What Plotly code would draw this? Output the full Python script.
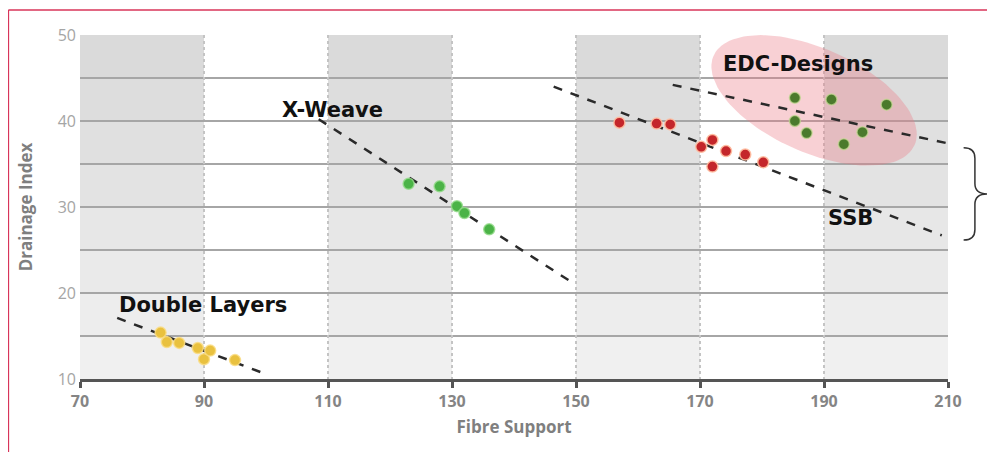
import numpy as np
import plotly.graph_objects as go

# ---- data ----
dl_x = [83, 84, 86, 89, 90, 91, 95]
dl_y = [15.4, 14.3, 14.2, 13.6, 12.3, 13.3, 12.2]
dl_fit_x = [76, 99.5]
dl_fit_y = [17.1, 10.7]

xw_x = [123, 128, 130.8, 132, 136]
xw_y = [32.7, 32.4, 30.1, 29.3, 27.4]
xw_fit_x = [108.5, 149]
xw_fit_y = [40.2, 21.4]

ssb_x = [157, 163, 165.2, 170.2, 172, 174.2, 177.3, 180.2, 172]
ssb_y = [39.8, 39.7, 39.6, 37.0, 37.8, 36.5, 36.1, 35.2, 34.7]
ssb_fit_x = [146.4, 209]
ssb_fit_y = [44.0, 26.7]

edc_x = [185.3, 191.2, 200.1, 185.3, 187.2, 196.2, 193.2]
edc_y = [42.7, 42.5, 41.9, 40.0, 38.6, 38.7, 37.3]
edc_fit_x = [165.6, 210]
edc_fit_y = [44.2, 37.4]

x_ticks = [70, 90, 110, 130, 150, 170, 190, 210]
y_ticks = [10, 20, 30, 40, 50]
labels = ["Double Layers", "X-Weave", "SSB", "EDC-Designs"]
label_x = [89.8, 110.8, 194.2, 185.8]
label_y = [18.6, 41.3, 28.7, 46.6]

# ellipse (EDC highlight) centre, semi-axes in px, angle deg
ell_c = (188.4, 42.4)
ell_ab = (110, 52)
ell_ang = 24

fig = go.Figure()

px_per_x = 868 / 140
px_per_y = 344 / 40
t = np.linspace(0, 2 * np.pi, 120)
th = np.radians(ell_ang)
u = ell_ab[0] * np.cos(t)
v = ell_ab[1] * np.sin(t)
ex = ell_c[0] + (u * np.cos(th) - v * np.sin(th)) / px_per_x
ey = ell_c[1] - (u * np.sin(th) + v * np.cos(th)) / px_per_y
fig.add_trace(go.Scatter(x=ex, y=ey, mode="lines", fill="toself",
                         fillcolor="rgba(236,120,132,0.35)", line=dict(width=0),
                         hoverinfo="skip", showlegend=False))

dash = dict(color="#2a2a2a", width=2.5, dash="dash")
for fx, fy in [(dl_fit_x, dl_fit_y), (xw_fit_x, xw_fit_y), (ssb_fit_x, ssb_fit_y), (edc_fit_x, edc_fit_y)]:
    fig.add_trace(go.Scatter(x=fx, y=fy, mode="lines", line=dash, showlegend=False))

def pts(x, y, col, halo):
    fig.add_trace(go.Scatter(x=x, y=y, mode="markers", showlegend=False,
                             marker=dict(size=11, color=col, line=dict(color=halo, width=1.5))))

pts(dl_x, dl_y, "#e9c13f", "rgba(250,220,130,0.8)")
pts(xw_x, xw_y, "#4bb347", "rgba(150,220,140,0.8)")
pts(ssb_x, ssb_y, "#c4262b", "rgba(255,190,160,0.9)")
pts(edc_x, edc_y, "#4b7a2c", "rgba(200,220,150,0.7)")

for txt, lx, ly in zip(labels, label_x, label_y):
    fig.add_annotation(x=lx, y=ly, text="<b>" + txt + "</b>", showarrow=False,
                       font=dict(family="DejaVu Sans", size=21, color="#111111"))

shapes = []
rows = list(range(10, 50, 5))
for b0 in [70, 110, 150, 190]:
    for r in rows:
        f = (r - 10) / 35.0
        g = int(round(240 - 22 * f))
        shapes.append(dict(type="rect", xref="x", yref="y", x0=b0, x1=b0 + 20, y0=r, y1=r + 5,
                           fillcolor=f"rgb({g},{g},{g})", line=dict(width=0), layer="below"))

# brace
xl, xm, xr = 1.018, 1.031, 1.045
yt, yb, ym, rr = 0.672, 0.404, 0.538, 0.03
path = (f"M {xl},{yt} Q {xm},{yt} {xm},{yt-rr} L {xm},{ym+rr} Q {xm},{ym} {xr},{ym} "
        f"Q {xm},{ym} {xm},{ym-rr} L {xm},{yb+rr} Q {xm},{yb} {xl},{yb}")
shapes.append(dict(type="path", xref="paper", yref="paper", path=path,
                   line=dict(color="#333333", width=1.5)))
# red frame
shapes.append(dict(type="line", xref="paper", yref="paper", x0=-0.0825, x1=1.07, y0=1.0727, y1=1.0727,
                   line=dict(color="#d8345a", width=1.5)))
shapes.append(dict(type="line", xref="paper", yref="paper", x0=-0.0825, x1=-0.0825, y0=1.0727, y1=-0.25,
                   line=dict(color="#d8345a", width=1.5)))

fig.update_layout(
    width=987, height=444,
    margin=dict(l=72, r=47, t=27, b=73),
    paper_bgcolor="white", plot_bgcolor="white",
    shapes=shapes,
    xaxis=dict(range=[70, 210], tickvals=x_ticks, showgrid=True, gridcolor="#c4c4c4",
               griddash="dot", gridwidth=1.5, showline=True, linecolor="#555555", linewidth=3,
               ticks="outside", ticklen=6, tickwidth=3, tickcolor="#555555",
               tickfont=dict(family="Open Sans", size=16, color="#858585", weight="bold"),
               title=dict(text="Fibre Support", standoff=10,
                          font=dict(family="Open Sans", size=17, color="#7f7f7f", weight="bold")),
               zeroline=False, automargin=False),
    yaxis=dict(range=[10, 50], tickvals=y_ticks, showgrid=True, gridcolor="#a6a6a6", gridwidth=2,
               minor=dict(dtick=5, showgrid=True, gridcolor="#a6a6a6", gridwidth=2),
               tickfont=dict(family="Open Sans", size=16, color="#a5a5a5"),
               ticks="", ticklabelstandoff=3,
               title=dict(text="Drainage Index", standoff=20,
                          font=dict(family="Open Sans", size=17, color="#7f7f7f", weight="bold")),
               zeroline=False, automargin=False),
)

fig.write_html("out.html")
